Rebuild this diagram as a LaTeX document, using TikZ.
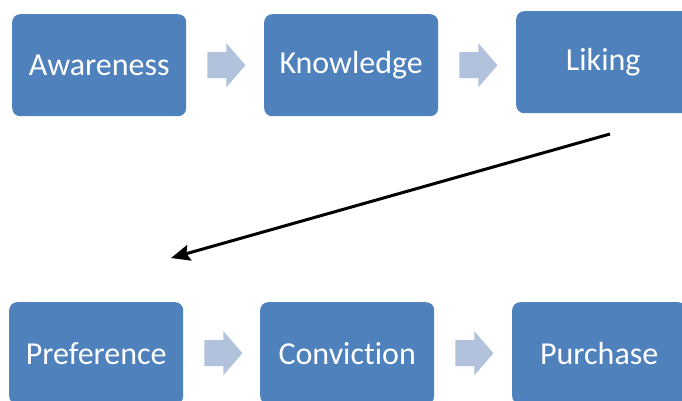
\documentclass[tikz,border=0pt]{standalone}
\usepackage{fontspec}
\setmainfont[Ligatures=CommonOff]{Carlito}
\usetikzlibrary{arrows.meta,calc}
\definecolor{boxblue}{RGB}{79,129,189}
\definecolor{arrowblue}{RGB}{179,194,220}
\tikzset{
  stage/.style={fill=boxblue, rounded corners=8pt, minimum width=174pt, minimum height=102pt,
    inner sep=0pt, text=white, font=\fontsize{32}{36}\selectfont, anchor=north west},
  blockarrow/.style={fill=arrowblue},
  link/.style={line width=3pt, -{Stealth[length=19pt,width=16pt,inset=3pt]}}
}
\newcommand{\blockarr}[2]{%
  \fill[blockarrow] ($(#1.east)+(21,-13)$) -- ($(#1.east)+(40,-13)$) -- ($(#1.east)+(40,-22)$)
    -- ($(#1.east)+(59,0)$) -- ($(#1.east)+(40,22)$) -- ($(#1.east)+(40,13)$)
    -- ($(#1.east)+(21,13)$) -- cycle;}
\begin{document}
\begin{tikzpicture}[x=1pt,y=-1pt]
\useasboundingbox (0,0) rectangle (682,401);
\node[stage] (aw) at (12,14) {Awareness};
\node[stage] (kn) at (264,14) {Knowledge};
\node[stage] (li) at (516,11) {Liking};
\node[stage] (pr) at (9,302) {Preference};
\node[stage] (co) at (260,302) {Conviction};
\node[stage] (pu) at (512,302) {Purchase};
\blockarr{aw}{kn}
\blockarr{kn}{li}
\blockarr{pr}{co}
\blockarr{co}{pu}
\coordinate (s) at (610,134);
\coordinate (e) at (171,258);
\draw[link] (s) -- (e);
\end{tikzpicture}
\end{document}
